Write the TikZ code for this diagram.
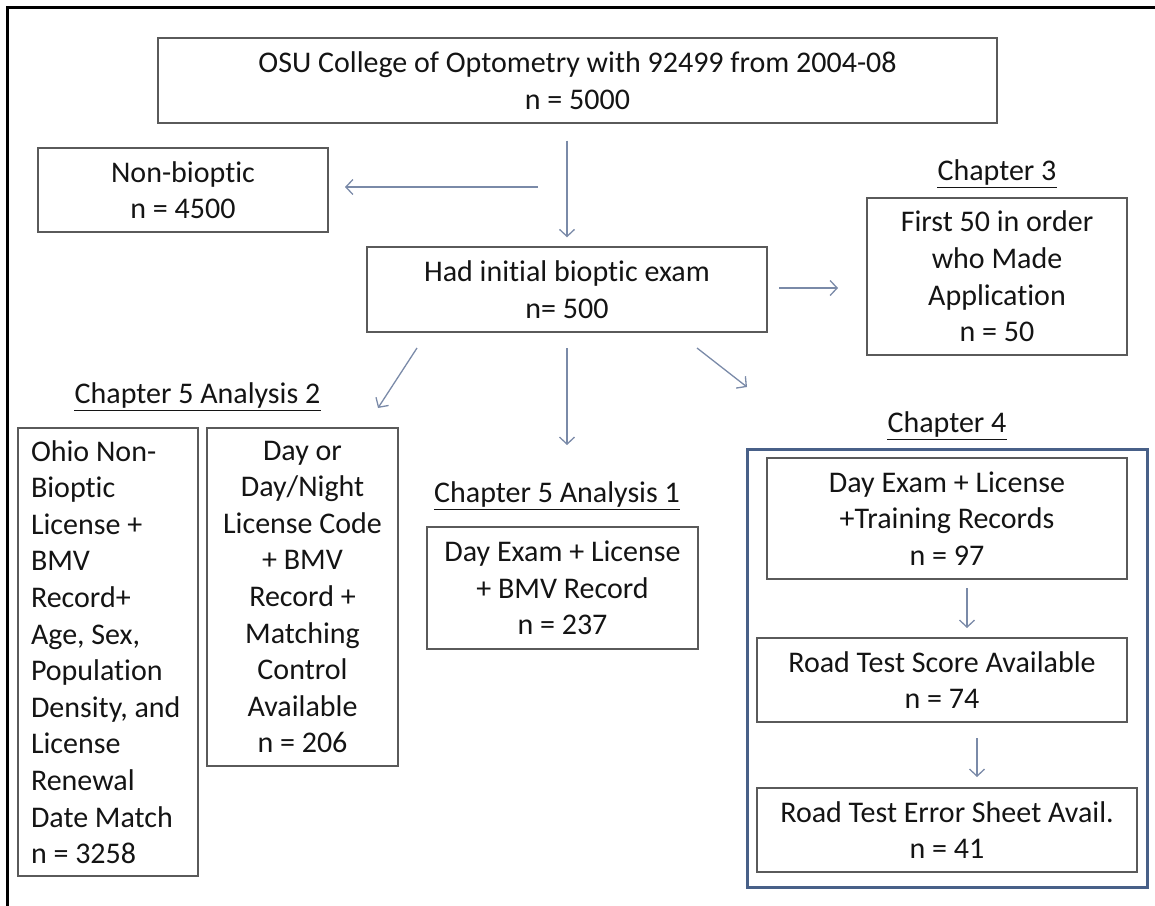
\documentclass[tikz,border=0pt]{standalone}
\usepackage{fontspec}
\setmainfont{Carlito}[RawFeature={-liga;-clig;-calt;-dlig}]
\usetikzlibrary{arrows.meta}
\definecolor{boxline}{RGB}{90,90,90}
\definecolor{arrowc}{RGB}{122,138,168}
\definecolor{frameblue}{RGB}{72,96,136}
\definecolor{txt}{RGB}{20,20,20}
\begin{document}
\begin{tikzpicture}[x=1pt,y=-1pt,
  box/.style={draw=boxline, line width=1.4pt, inner sep=0pt, align=center, text=txt,
    font=\fontsize{30}{36.6}\selectfont},
  lab/.style={inner sep=0pt, anchor=base, text=txt, font=\fontsize{30}{36.6}\selectfont},
  ul/.style={draw=txt, line width=1.5pt},
  arr/.style={draw=arrowc, line width=1.3pt, -{Straight Barb[length=7pt,width=15pt]}}]
\useasboundingbox (0,0) rectangle (1155,905);
% outer frame
\draw[line width=3pt] (7,910) -- (7,7) -- (1160,7);
% chapter 4 frame
\draw[draw=frameblue, line width=3pt] (747,449) rectangle (1147,887);

\node[box, minimum width=839pt, minimum height=85pt] (top) at (577.5,80.5)
  {OSU College of Optometry with 92499 from 2004-08\\ n = 5000};
\node[box, minimum width=290pt, minimum height=84pt] (nb) at (183,190)
  {Non-bioptic\\ n = 4500};
\node[box, minimum width=400pt, minimum height=85pt] (had) at (567,289.5)
  {Had initial bioptic exam\\ n= 500};
\node[lab] (c3) at (997,180) {Chapter 3};
\node[box, minimum width=260pt, minimum height=157pt] (f50) at (997,276.5)
  {First 50 in order\\ who Made\\ Application\\ n = 50};
\node[lab] (c52) at (197.5,403) {Chapter 5 Analysis 2};
\node[box, minimum width=180pt, minimum height=448pt, text width=154pt, inner xsep=13pt, align=flush left] (ohio) at (108,652)
  {Ohio Non-\\ Bioptic\\ License +\\ BMV\\ Record+\\ Age, Sex,\\ Population\\ Density, and\\ License\\ Renewal\\ Date Match\\ n = 3258};
\node[box, minimum width=191pt, minimum height=338pt] (dayor) at (302.5,597)
  {Day or\\ Day/Night\\ License Code\\ + BMV\\ Record +\\ Matching\\ Control\\ Available\\ n = 206};
\node[lab] (c51) at (557,502) {Chapter 5 Analysis 1};
\node[box, minimum width=271pt, minimum height=122pt] (de) at (562.5,588)
  {Day Exam + License\\ + BMV Record\\ n = 237};
\node[lab] (c4) at (947,432) {Chapter 4};
\node[box, minimum width=360pt, minimum height=121pt] (dt) at (947,518.5)
  {Day Exam + License\\ +Training Records\\ n = 97};
\node[box, minimum width=370pt, minimum height=84pt] (rts) at (942,680)
  {Road Test Score Available\\ n = 74};
\node[box, minimum width=380pt, minimum height=84pt] (rte) at (947,830)
  {Road Test Error Sheet Avail.\\ n = 41};

% underlines
\foreach \n in {c3,c52,c51,c4}
  \draw[ul] ([yshift=-7.5pt]\n.base west) -- ([yshift=-7.5pt]\n.base east);

% connectors
\coordinate (a1s) at (538,187);
\coordinate (a1e) at (345,187);
\draw[arr] (a1s) -- (a1e);
\draw[arr, shorten <=17pt, shorten >=9pt] (top.south -| had.north) -- (had.north);
\coordinate (a3s) at (779,288);
\coordinate (a3e) at (838,288);
\draw[arr] (a3s) -- (a3e);
\coordinate (a4s) at (417,348);
\coordinate (a4e) at (378,408);
\draw[arr] (a4s) -- (a4e);
\coordinate (a5s) at (567,348);
\coordinate (a5e) at (567,445);
\draw[arr] (a5s) -- (a5e);
\coordinate (a6s) at (697,348);
\coordinate (a6e) at (747,387);
\draw[arr] (a6s) -- (a6e);
\coordinate (a7s) at (967,588);
\coordinate (a7e) at (967,628);
\draw[arr] (a7s) -- (a7e);
\coordinate (a8s) at (977,738);
\coordinate (a8e) at (977,777);
\draw[arr] (a8s) -- (a8e);
\end{tikzpicture}
\end{document}
